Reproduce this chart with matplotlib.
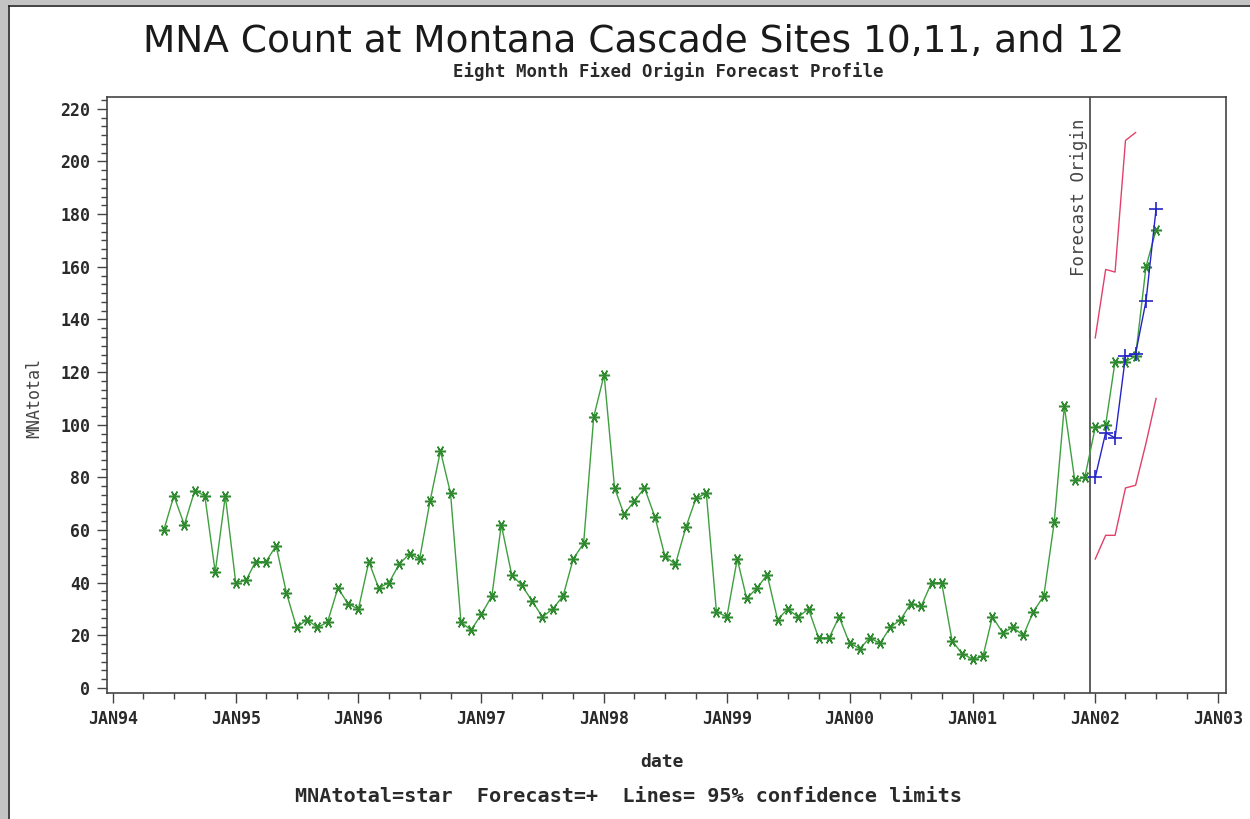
import matplotlib
matplotlib.use('Agg')
import matplotlib.pyplot as plt
import matplotlib.dates as mdates
from matplotlib.ticker import AutoMinorLocator
from matplotlib.patches import Rectangle
import pandas as pd

# monthly MNA totals, Jun 1994 - Jul 2002
mna_start = '1994-06-01'
mna_total = [
    60, 73, 62, 75, 73, 44, 73,                          # 1994 Jun-Dec
    40, 41, 48, 48, 54, 36, 23, 26, 23, 25, 38, 32,      # 1995
    30, 48, 38, 40, 47, 51, 49, 71, 90, 74, 25, 22,      # 1996
    28, 35, 62, 43, 39, 33, 27, 30, 35, 49, 55, 103,     # 1997
    119, 76, 66, 71, 76, 65, 50, 47, 61, 72, 74, 29,     # 1998
    27, 49, 34, 38, 43, 26, 30, 27, 30, 19, 19, 27,      # 1999
    17, 15, 19, 17, 23, 26, 32, 31, 40, 40, 18, 13,      # 2000
    11, 12, 27, 21, 23, 20, 29, 35, 63, 107, 79, 80,     # 2001
    99, 100, 124, 124, 126, 160, 174,                    # 2002 Jan-Jul
]

# forecasts from fixed origin (Dec 2001)
fc_start = '2002-01-01'
forecast = [80, 97, 95, 126, 127, 147, 182]
lower95 = [49, 58, 58, 76, 77, 93, 110]
upper95 = [133, 159, 158, 208, 211]   # later months fall off the axis

origin_date = '2001-12-16'
year_labels = ['JAN94', 'JAN95', 'JAN96', 'JAN97', 'JAN98',
               'JAN99', 'JAN00', 'JAN01', 'JAN02', 'JAN03']
y_ticks = [0, 20, 40, 60, 80, 100, 120, 140, 160, 180, 200, 220]

mna_dates = pd.date_range(mna_start, periods=len(mna_total), freq='MS')
fc_dates = pd.date_range(fc_start, periods=len(forecast), freq='MS')
up_dates = pd.date_range(fc_start, periods=len(upper95), freq='MS')
year_ticks = pd.date_range('1994-01-01', periods=len(year_labels), freq='YS')

mono = 'DejaVu Sans Mono'

fig = plt.figure(figsize=(12.5, 8.19), dpi=100)
fig.patch.set_facecolor('white')

# grey frame round the picture (left and top)
fig.patches.append(Rectangle((0, 0), 8 / 1250, 1, transform=fig.transFigure,
                             facecolor='#c4c4c4', edgecolor='none', zorder=0))
fig.patches.append(Rectangle((0, 1 - 5 / 819), 1, 5 / 819, transform=fig.transFigure,
                             facecolor='#c4c4c4', edgecolor='none', zorder=0))
fig.add_artist(plt.Line2D([8.5 / 1250, 8.5 / 1250], [0, 1 - 5.5 / 819],
                          transform=fig.transFigure, color='#222222', lw=1.2))
fig.add_artist(plt.Line2D([8.5 / 1250, 1], [1 - 5.5 / 819, 1 - 5.5 / 819],
                          transform=fig.transFigure, color='#222222', lw=1.2))

ax = fig.add_axes([107 / 1250, 1 - 693 / 819, (1226 - 107) / 1250, (693 - 97) / 819])

ax.plot(mna_dates, mna_total, color='#3f9f3f', lw=1.0,
        marker=(6, 2, 90), markersize=8, markeredgewidth=1.1,
        markeredgecolor='#2f8a2f', zorder=3)
ax.plot(fc_dates, forecast, color='#2424c8', lw=1.0,
        marker='+', markersize=10, markeredgewidth=1.2, zorder=4)
ax.plot(fc_dates, lower95, color='#e2406a', lw=1.0, zorder=2)
ax.plot(up_dates, upper95, color='#e2406a', lw=1.0, zorder=2)

origin = pd.Timestamp(origin_date)
ax.axvline(origin, color='#333333', lw=1.1, zorder=1)
ax.text(origin - pd.Timedelta(days=32), 216.5, 'Forecast Origin', rotation=90,
        ha='center', va='top', fontsize=12.5, family=mono, color='#444444')

ax.set_xlim(pd.Timestamp('1994-01-01') - pd.Timedelta(days=18),
            pd.Timestamp('2003-01-01') + pd.Timedelta(days=24))
ax.set_ylim(-1.9, 224.5)

ax.set_xticks(year_ticks)
ax.set_xticklabels(year_labels)
ax.xaxis.set_minor_locator(mdates.MonthLocator(bymonth=[4, 7, 10]))
ax.set_yticks(y_ticks)
ax.set_yticklabels([str(v) for v in y_ticks])
ax.yaxis.set_minor_locator(AutoMinorLocator(6))

for lbl in ax.get_xticklabels() + ax.get_yticklabels():
    lbl.set_family(mono)
    lbl.set_fontweight('bold')
    lbl.set_fontsize(12)
    lbl.set_color('#2a2a2a')

ax.tick_params(axis='both', which='major', length=7, width=1, color='#444444', pad=5)
ax.tick_params(axis='both', which='minor', length=4, width=1, color='#444444')
for s in ax.spines.values():
    s.set_color('#444444')
    s.set_linewidth(1.2)

fig.text(634 / 1250, 1 - 42 / 819,
         'MNA Count at Montana Cascade Sites 10,11, and 12',
         ha='center', va='center', fontsize=27, family='DejaVu Sans', color='#1a1a1a')
fig.text(668 / 1250, 1 - 72 / 819, 'Eight Month Fixed Origin Forecast Profile',
         ha='center', va='center', fontsize=12.5, family=mono, fontweight='bold',
         color='#2a2a2a')
fig.text(662 / 1250, 1 - 762 / 819, 'date', ha='center', va='center',
         fontsize=13, family=mono, fontweight='bold', color='#2a2a2a')
fig.text(628 / 1250, 1 - 797 / 819,
         'MNAtotal=star  Forecast=+  Lines= 95% confidence limits',
         ha='center', va='center', fontsize=14.5, family=mono, fontweight='bold',
         color='#2a2a2a')
fig.text(34 / 1250, 1 - 398 / 819, 'MNAtotal', rotation=90, ha='center', va='center',
         fontsize=12, family=mono, color='#444444')

fig.savefig('out.png', dpi=100, facecolor=fig.get_facecolor())
